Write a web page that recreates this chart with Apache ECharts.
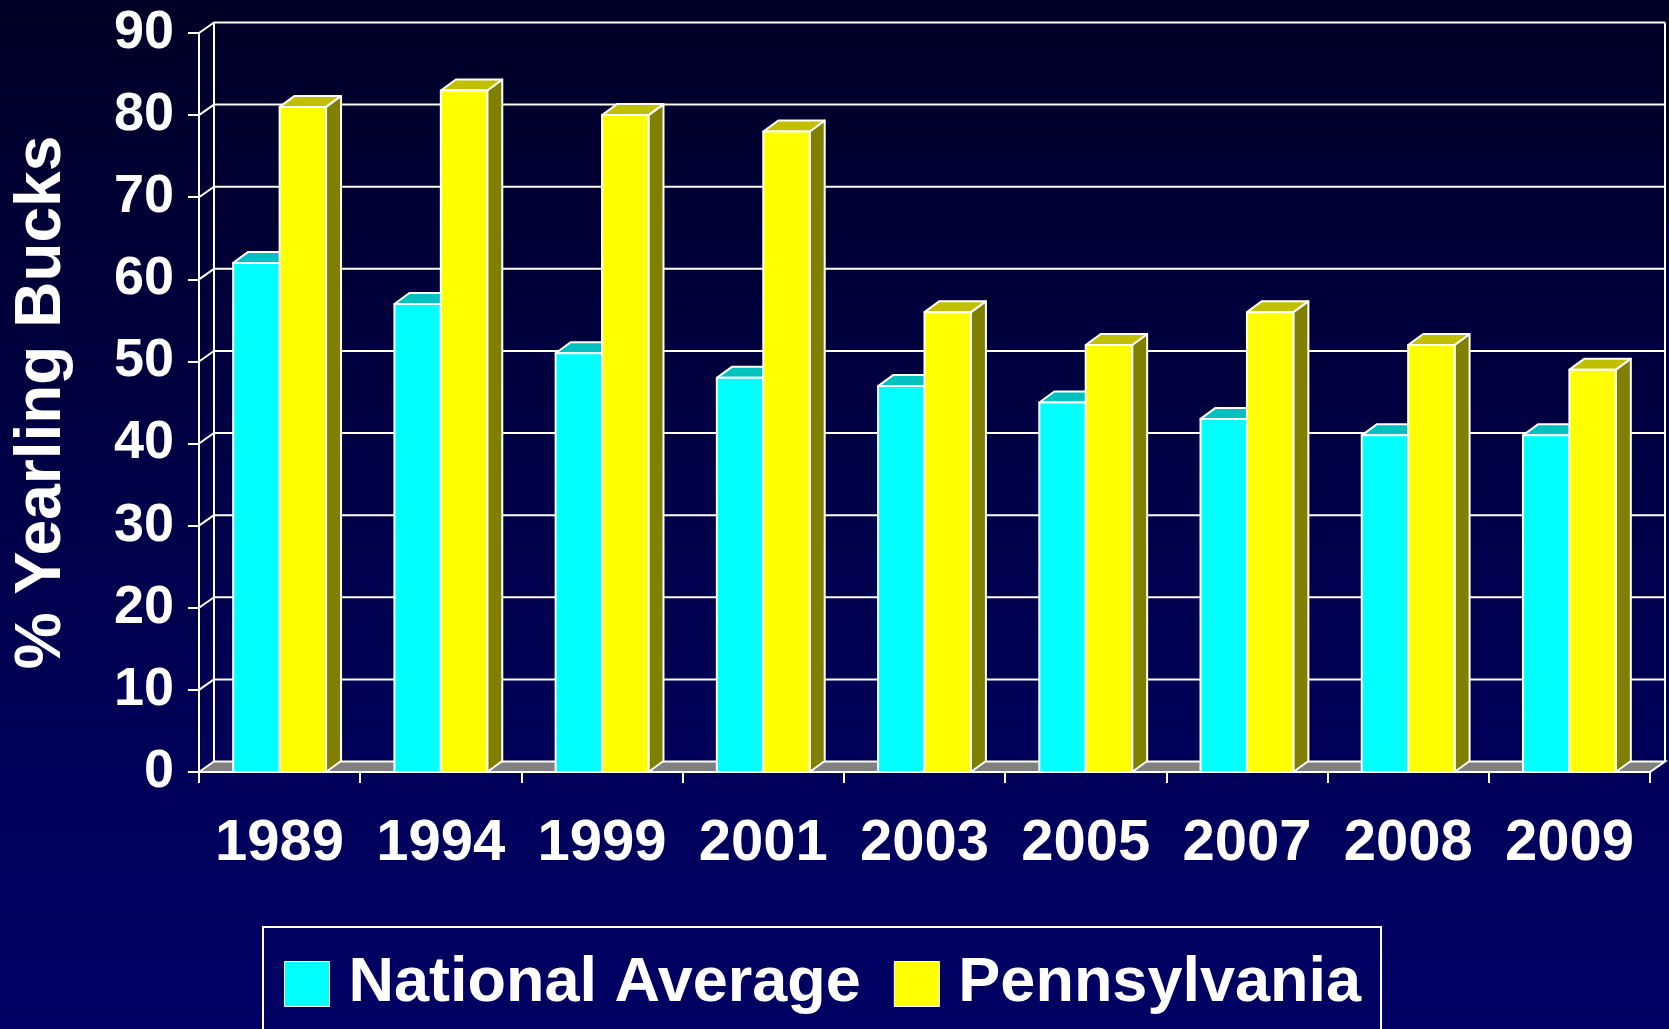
<!DOCTYPE html>
<html><head><meta charset="utf-8">
<script src="https://cdn.jsdelivr.net/npm/echarts@6/dist/echarts.min.js"></script>
<style>html,body{margin:0;padding:0;background:#000044;}#c{width:1669px;height:1029px;}</style>
</head><body><div id="c"></div>
<script>
const categories = ['1989','1994','1999','2001','2003','2005','2007','2008','2009'];
const nationalAverage = [62,57,51,48,47,45,43,41,41];
const pennsylvania = [81,83,80,78,56,52,56,52,49];
const yTicks = [0,10,20,30,40,50,60,70,80,90];

const FONT = '"Liberation Sans", Arial, Helvetica, sans-serif';
const DX = 15, DY = -10.5;     // depth of back wall
const BDX = 15, BDY = -11;     // depth of bars
const BAR_FRAC = 0.288;
const LINE = '#ffffff';

function wallRender(params, api) {
  const cs = params.coordSys;
  const v = api.value(1);
  const y = api.coord([0, v])[1];
  const x0 = cs.x, x1 = cs.x + cs.width;
  const ls = {stroke: LINE, lineWidth: 2};
  const children = [];
  if (v === 0) {
    const yTop = api.coord([0, 90])[1];
    children.push({type:'polygon', shape:{points:[[x0,y],[x0+DX,y+DY],[x1+DX,y+DY],[x1,y]]},
      style:{fill:'#808080', stroke: LINE, lineWidth:2}});
    children.push({type:'line', shape:{x1:x0+DX,y1:y+DY,x2:x0+DX,y2:yTop+DY}, style:ls});
    children.push({type:'line', shape:{x1:x1+DX,y1:y+DY,x2:x1+DX,y2:yTop+DY}, style:ls});
  } else {
    children.push({type:'line', shape:{x1:x0+DX,y1:y+DY,x2:x1+DX,y2:y+DY}, style:ls});
    children.push({type:'line', shape:{x1:x0,y1:y,x2:x0+DX,y2:y+DY}, style:ls});
  }
  return {type:'group', children};
}

function barRender(side, front, top, sideColor) {
  return function (params, api) {
    const idx = api.value(0), val = api.value(1);
    const pTop = api.coord([idx, val]);
    const pBase = api.coord([idx, 0]);
    const band = api.size([1, 0])[0];
    const w = band * BAR_FRAC;
    const xl = side < 0 ? pTop[0] - w : pTop[0];
    const xr = xl + w;
    const yt = pTop[1], yb = pBase[1];
    const st = {stroke:'#ffffff', lineWidth:2, lineJoin:'round'};
    return {type:'group', children:[
      {type:'polygon', shape:{points:[[xr,yb],[xr+BDX,yb+BDY],[xr+BDX,yt+BDY],[xr,yt]]}, style:Object.assign({fill:sideColor}, st)},
      {type:'polygon', shape:{points:[[xl,yt],[xl+BDX,yt+BDY],[xr+BDX,yt+BDY],[xr,yt]]}, style:Object.assign({fill:top}, st)},
      {type:'rect', shape:{x:xl,y:yt,width:w,height:yb-yt}, style:Object.assign({fill:front}, st)}
    ]};
  };
}

const chart = echarts.init(document.getElementById('c'));
chart.setOption({
  animation: false,
  backgroundColor: {type:'linear', x:0, y:0, x2:0, y2:1,
    colorStops:[{offset:0, color:'#000026'}, {offset:0.75, color:'#00005a'}, {offset:1, color:'#000064'}]},
  grid: {left:199, right:19, top:33, bottom:257},
  legend: {
    left: 263, top: 927,
    padding: [24, 20, 60, 21],
    borderColor: '#ffffff', borderWidth: 2,
    itemWidth: 45, itemHeight: 45, itemGap: 33,
    icon: 'rect',
    itemStyle: {borderColor:'#ffffff', borderWidth:1},
    textStyle: {color:'#ffffff', fontSize:63, fontWeight:'bold', fontFamily:FONT, lineHeight:66, padding:[0,0,0,14]},
    data: ['National Average', 'Pennsylvania']
  },
  xAxis: {
    type:'category', data: categories, boundaryGap: true,
    axisLine: {show:true, lineStyle:{color:LINE, width:2}},
    axisTick: {show:true, length:11, lineStyle:{color:LINE, width:2}},
    axisLabel: {interval:0, color:'#ffffff', fontSize:58, fontWeight:'bold', fontFamily:FONT, margin:43, lineHeight:58},
    splitLine: {show:false}
  },
  yAxis: {
    type:'value', min:0, max:90, interval:10,
    axisLine: {show:true, lineStyle:{color:LINE, width:2}},
    axisTick: {show:true, length:11, lineStyle:{color:LINE, width:2}},
    axisLabel: {color:'#ffffff', fontSize:54, fontWeight:'bold', fontFamily:FONT, margin:25},
    splitLine: {show:false},
    name: '% Yearling Bucks', nameLocation:'middle', nameRotate:90, nameGap:125,
    nameTextStyle: {color:'#ffffff', fontSize:64, fontWeight:'bold', fontFamily:FONT, lineHeight:64}
  },
  series: [
    {type:'custom', name:'walls', z:1, silent:true, renderItem: wallRender,
     data: yTicks.map(v => [0, v]), encode:{x:0, y:1}},
    {type:'custom', name:'National Average', z:2, renderItem: barRender(-1, '#00ffff', '#00c0c0', '#008080'),
     itemStyle:{color:'#00ffff'}, data: nationalAverage.map((v,i) => [i, v]), encode:{x:0, y:1}},
    {type:'custom', name:'Pennsylvania', z:3, renderItem: barRender(1, '#ffff00', '#c0c000', '#808000'),
     itemStyle:{color:'#ffff00'}, data: pennsylvania.map((v,i) => [i, v]), encode:{x:0, y:1}}
  ]
});
</script></body></html>
